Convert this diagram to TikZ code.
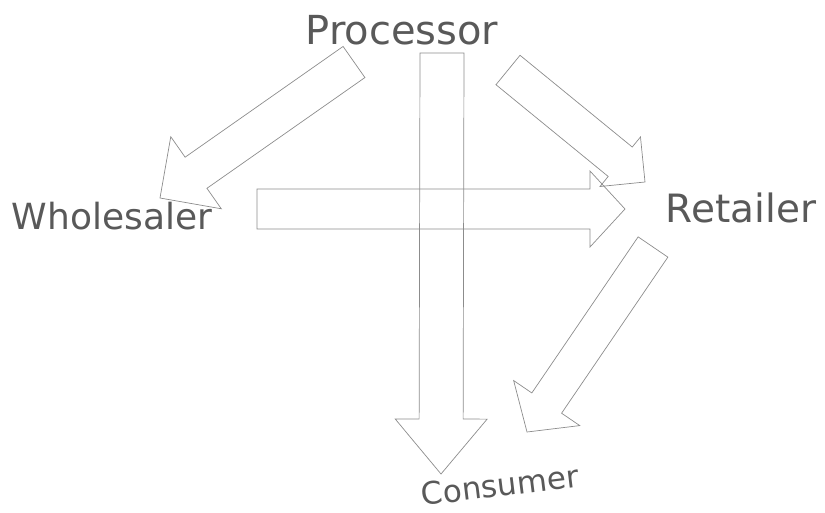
\documentclass[tikz,border=0pt]{standalone}
\usepackage{fontspec}
\setmainfont{DejaVu Sans}
\usetikzlibrary{calc}

\begin{document}
\begin{tikzpicture}[
  x=1pt, y=-1pt,
  lbl/.style={text=black!65, inner sep=0pt},
  blk/.style={draw=black!45, line width=0.7pt, line join=miter}
]
\useasboundingbox (0,0) rectangle (825,512);
\node[lbl, font=\fontsize{40}{44}\selectfont] (proc) at (402,30) {Processor};
\node[lbl, font=\fontsize{36}{40}\selectfont] (whol) at (112,216) {Wholesaler};
\node[lbl, font=\fontsize{39}{43}\selectfont] (ret) at (741,208) {Retailer};
\node[lbl, font=\fontsize{31}{35}\selectfont, rotate=7] (cons) at (500,485) {Consumer};

% ends of the block arrows
\coordinate (pw-s) at (354,62);  \coordinate (pw-t) at (160,198);
\coordinate (pr-s) at (508,70);  \coordinate (pr-t) at (645,182);
\coordinate (pc-s) at (442,53);  \coordinate (pc-t) at (441,474);
\coordinate (wr-s) at (257,209); \coordinate (wr-t) at (625,209);
\coordinate (rc-s) at (653,247); \coordinate (rc-t) at (527,432);

% start/tip/shaft half width/head half width/head length
\foreach \s/\t/\w/\h/\l in {pw-s/pw-t/19pt/44pt/44pt, pr-s/pr-t/19pt/32pt/32pt,
    pc-s/pc-t/22pt/46pt/55pt, wr-s/wr-t/20pt/38pt/35pt, rc-s/rc-t/18pt/40pt/35pt}{
  \coordinate (hb) at ($(\t)!\l!(\s)$);
  \draw[blk] ($(\s)!\w!90:(\t)$) -- ($(hb)!\w!90:(\t)$) -- ($(hb)!\h!90:(\t)$) -- (\t)
    -- ($(hb)!\h!-90:(\t)$) -- ($(hb)!\w!-90:(\t)$) -- ($(\s)!\w!-90:(\t)$) -- cycle;
}
\end{tikzpicture}
\end{document}
